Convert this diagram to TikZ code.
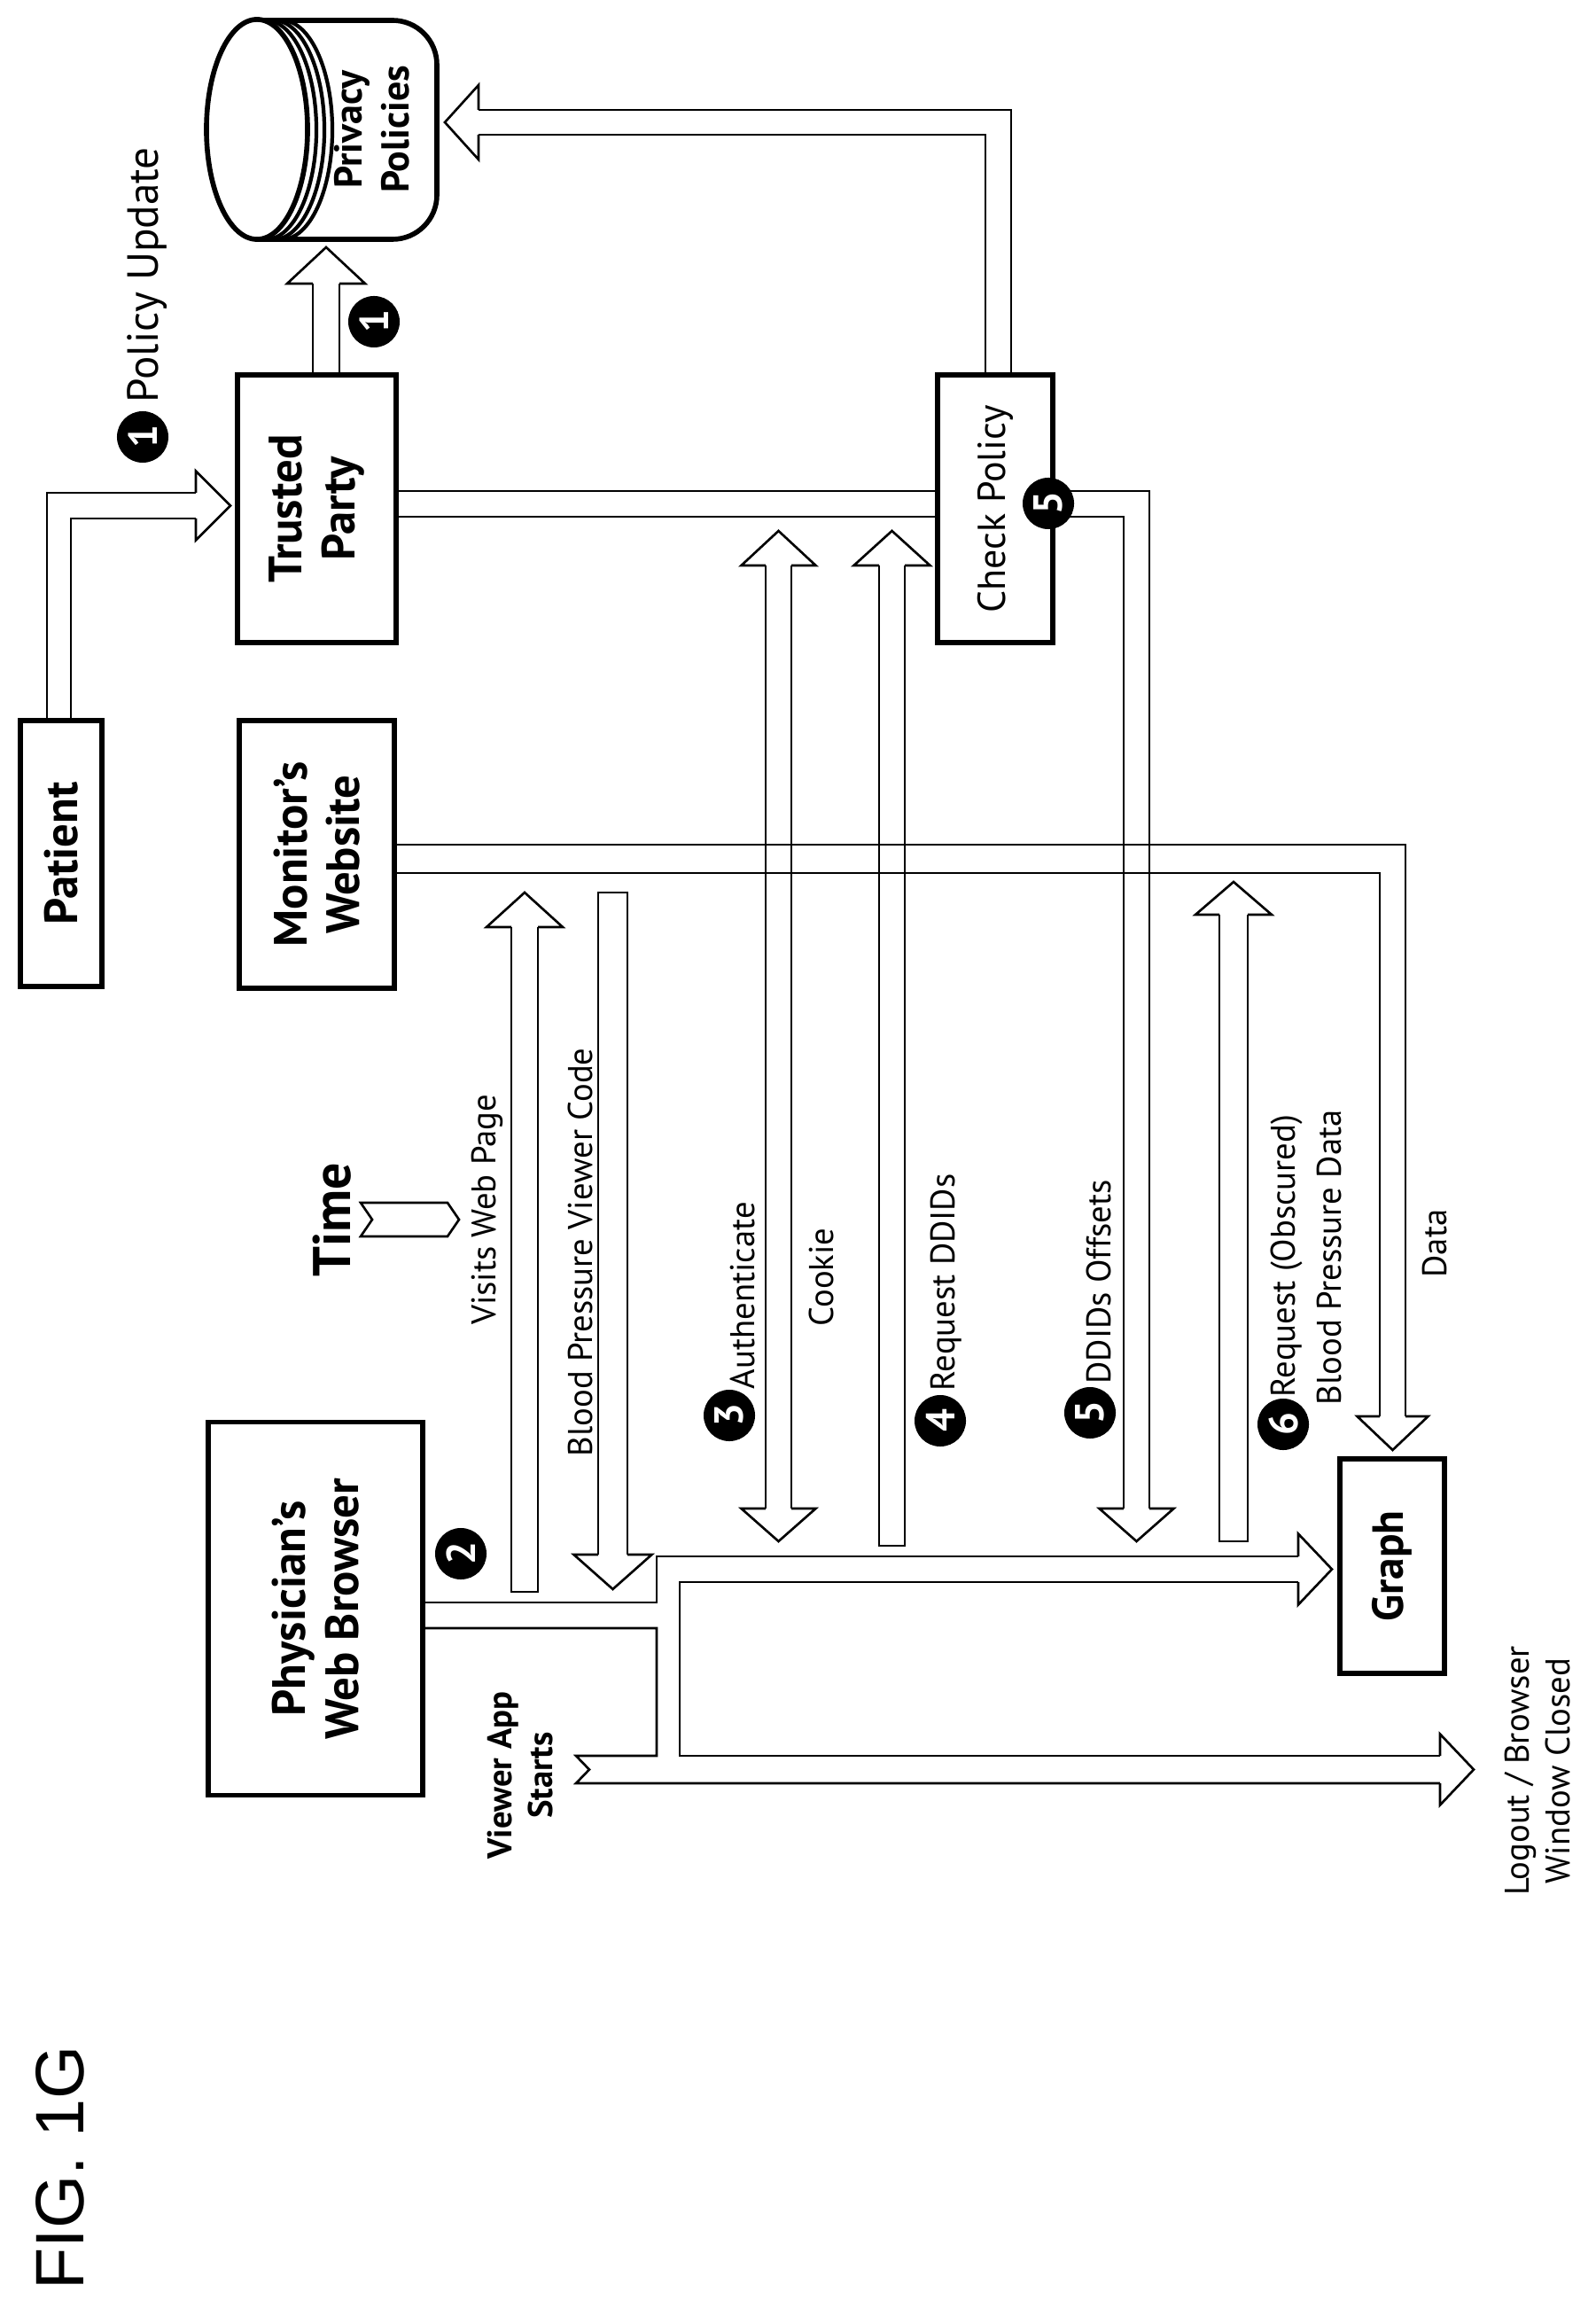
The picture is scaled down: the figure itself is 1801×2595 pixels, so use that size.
\documentclass[tikz,border=0pt]{standalone}
\usepackage{fontspec}
\setmainfont{PT Sans}
\newfontfamily\figfont{Liberation Sans}
\newcommand\headH[5]{\draw[pipe] (#1,#3-#4) -- (#1,#3-#5) -- (#2,#3) -- (#1,#3+#5) -- (#1,#3+#4);}
\newcommand\headV[5]{\draw[pipe] (#3-#4,#1) -- (#3-#5,#1) -- (#3,#2) -- (#3+#5,#1) -- (#3+#4,#1);}
\begin{document}
\begin{tikzpicture}[x=0.01cm,y=-0.01cm,
  pipe/.style={line width=0.75pt,line join=miter},
  box/.style={draw,line width=1.6pt,rotate=90,inner sep=0pt,font=\fontsize{15}{17}\selectfont\bfseries,align=center},
  num/.style={circle,fill=black,minimum size=0.58cm,inner sep=0pt,text=white,font=\fontsize{13}{13}\selectfont\bfseries,rotate=90},
  lbl/.style={rotate=90,inner sep=0pt,font=\fontsize{11}{13}\selectfont,align=center}]
\useasboundingbox (0,0) rectangle (1801,2595);
% boxes
\node[box,minimum width=3cm,minimum height=0.92cm] (patient) at (69,963) {Patient};
\node[box,minimum width=3.02cm,minimum height=1.75cm] (monitor) at (357.5,964) {Monitor's\\Website};
\node[box,minimum width=3.02cm,minimum height=1.79cm] (trusted) at (357.5,574) {Trusted\\Party};
\node[box,minimum width=3.02cm,minimum height=1.3cm,font=\fontsize{12.5}{14}\selectfont] (check) at (1123,574) {Check Policy};
\node[box,minimum width=4.21cm,minimum height=2.42cm] (phys) at (356,1815) {Physician's\\Web Browser};
\node[box,minimum width=2.42cm,minimum height=1.18cm,font=\fontsize{14}{16}\selectfont\bfseries] (graph) at (1571,1767) {Graph};
% cylinder
\fill[white] (290,23) rectangle (450,270);
\draw[line width=1.6pt,rounded corners=0.5cm] (290,23) -- (493,23) -- (493,270) -- (290,270);
\draw[line width=1.6pt,fill=white] (290,146) ellipse [x radius=0.57cm,y radius=1.24cm];
\foreach \d in {10,19,28} \draw[line width=1.2pt] (290+\d,23) arc[start angle=90,end angle=-90,x radius=0.57cm,y radius=1.235cm];
\node[rotate=90,align=center,font=\fontsize{12.5}{15}\selectfont\bfseries] (privacy) at (420,146) {Privacy\\Policies};
% Patient -> Trusted
\draw[pipe] (53,813) -- (53,556) -- (221,556);
\draw[pipe] (80,813) -- (80,585) -- (221,585);
\headH{221}{260}{570.5}{14.5}{39}
% Trusted -> Privacy
\draw[pipe] (353,423) -- (353,320); \draw[pipe] (383,423) -- (383,320);
\headV{320}{279}{368}{15}{44}
% Check -> Privacy
\draw[pipe] (1141,423) -- (1141,124) -- (540,124);
\draw[pipe] (1112,423) -- (1112,152) -- (540,152);
\headH{540}{502}{138}{14}{42}
% Trusted -> Check
\draw[pipe] (447,554) -- (1058,554); \draw[pipe] (447,583) -- (1058,583);
% Check -> Graph (DDIDs offsets)
\draw[pipe] (1188,554) -- (1297,554) -- (1297,1702);
\draw[pipe] (1188,583) -- (1268,583) -- (1268,1702);
\headV{1702}{1739}{1282.5}{14.5}{42}
% Monitor -> Graph (Data)
\draw[pipe] (445,953) -- (1586,953) -- (1586,1598);
\draw[pipe] (445,985) -- (1557,985) -- (1557,1598);
\headV{1598}{1636}{1571.5}{14.5}{40}
% Visits web page
\draw[pipe] (577,1046) -- (577,1796) -- (607,1796) -- (607,1046);
\headV{1046}{1007}{592}{15}{43}
% Blood pressure viewer code
\draw[pipe] (675,1754) -- (675,1007) -- (708,1007) -- (708,1754);
\headV{1754}{1793}{691.5}{16.5}{44}
% Authenticate / Cookie
\draw[pipe] (864,638) -- (864,1702); \draw[pipe] (893,638) -- (893,1702);
\headV{638}{599}{878.5}{14.5}{42}
\headV{1702}{1739}{878.5}{14.5}{42}
% Request DDIDs
\draw[pipe] (992,638) -- (992,1744) -- (1021,1744) -- (1021,638);
\headV{638}{599}{1006.5}{14.5}{43}
% Request obscured
\draw[pipe] (1376,1032) -- (1376,1739) -- (1408,1739) -- (1408,1032);
\headV{1032}{995}{1392}{16}{43}
% Physician -> Graph / Logout
\draw[pipe] (477,1808) -- (741,1808) -- (741,1756) -- (1465,1756);
\draw[pipe] (1465,1785) -- (767,1785) -- (767,1981) -- (1625,1981);
\draw[pipe] (477,1837) -- (741,1837) -- (741,1981) -- (650,1981) -- (665,1996.5) -- (650,2012) -- (1625,2012);
\headH{1465}{1503}{1770.5}{14.5}{40}
\headH{1625}{1663}{1996.5}{15.5}{40}
% Time
\node[rotate=90,inner sep=0pt,font=\fontsize{17}{17}\selectfont\bfseries] (time) at (375,1376) {Time};
\draw[pipe] (407,1357) -- (505,1357) -- (518,1376) -- (505,1395) -- (407,1395) -- (420,1376) -- cycle;
% numbered circles
\node[num] (n1a) at (161,493) {1};
\node[num] (n1b) at (422,363) {1};
\node[num] (n2) at (520,1753) {2};
\node[num] (n3) at (823,1597) {3};
\node[num] (n4) at (1061,1603) {4};
\node[num] (n5a) at (1183,568) {5};
\node[num] (n5b) at (1230,1594) {5};
\node[num] (n6) at (1448,1607) {6};
% labels
\node[lbl,anchor=west,font=\fontsize{14}{16}\selectfont] (pu) at (166,455) {Policy Update};
\node[lbl] (visits) at (550,1365) {Visits Web Page};
\node[lbl,anchor=west] (bpc) at (655,1644) {Blood Pressure Viewer Code};
\node[lbl,anchor=west] (auth) at (838,1568) {Authenticate};
\node[lbl] (cookie) at (927,1441) {Cookie};
\node[lbl,anchor=west] (rdd) at (1068,1570) {Request DDIDs};
\node[lbl,anchor=west] (ddo) at (1240,1562) {DDIDs Offsets};
\node[lbl,anchor=west] (rq1) at (1452,1577) {Request (Obscured)};
\node[lbl,anchor=west] (rq2) at (1500,1586) {Blood Pressure Data};
\node[lbl] (data) at (1619,1403) {Data};
\node[lbl,font=\fontsize{11}{13}\selectfont\bfseries] (vas) at (587,2003) {Viewer App\\Starts};
\node[lbl] (logout) at (1735,1998) {Logout / Browser\\Window Closed};
\node[rotate=90,inner sep=0pt,font=\figfont\fontsize{22}{22}\selectfont] (fig) at (68,2446) {FIG. 1G};
\end{tikzpicture}
\end{document}
